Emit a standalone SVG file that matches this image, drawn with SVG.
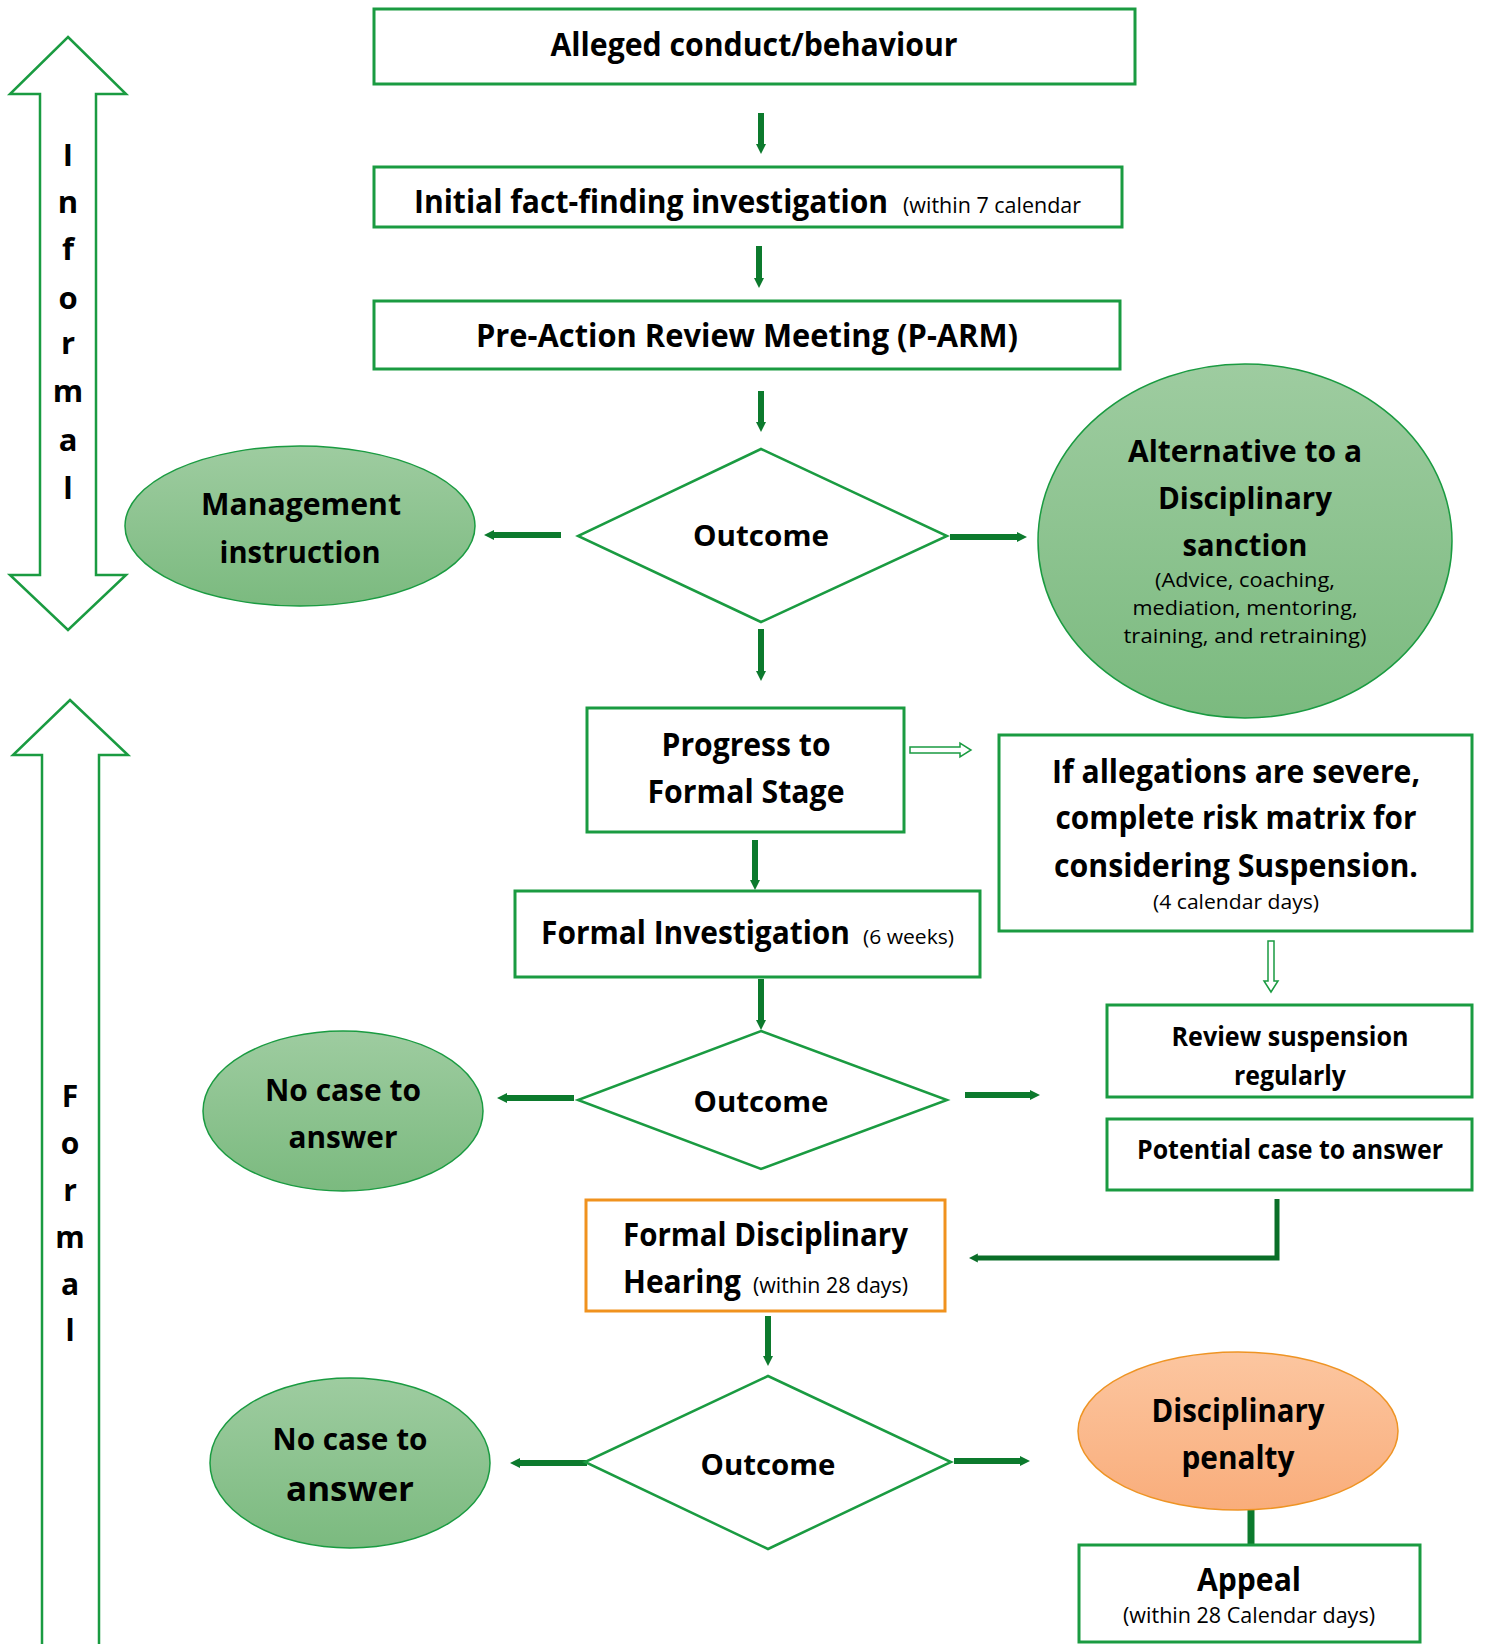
<svg xmlns="http://www.w3.org/2000/svg" width="1487" height="1644" viewBox="0 0 1487 1644">
<defs>
<linearGradient id="gGreen" x1="0" y1="0" x2="0" y2="1">
<stop offset="0" stop-color="#9ecca0"/><stop offset="1" stop-color="#7bba7f"/>
</linearGradient>
<linearGradient id="gOrange" x1="0" y1="0" x2="0" y2="1">
<stop offset="0" stop-color="#fcc6a0"/><stop offset="1" stop-color="#f9ad7b"/>
</linearGradient>
<marker id="ah" viewBox="0 0 10 10" refX="2" refY="5" markerWidth="10" markerHeight="14" markerUnits="userSpaceOnUse" orient="auto">
<path d="M0,0 L10,5 L0,10 Z" fill="#0c7a2d"/>
</marker>
<marker id="ah2" viewBox="0 0 10 10" refX="2" refY="5" markerWidth="9" markerHeight="12" markerUnits="userSpaceOnUse" orient="auto">
<path d="M0,0 L10,5 L0,10 Z" fill="#0a6e28"/>
</marker>
</defs>
<style>
.box{fill:#fff;stroke:#1a9b41;stroke-width:3}
.obox{fill:#fff;stroke:#f0921e;stroke-width:3}
.dia{fill:#fff;stroke:#1a9b41;stroke-width:2.5}
.ell{fill:url(#gGreen);stroke:#1a9b41;stroke-width:1.5}
.oell{fill:url(#gOrange);stroke:#ee9424;stroke-width:1.5}
.big{fill:none;stroke:#1a9b41;stroke-width:2.5}
.hol{fill:#fff;stroke:#1a9b41;stroke-width:1.5}
.arr{stroke:#0c7a2d;stroke-width:6;fill:none;marker-end:url(#ah)}
.t{font-family:"Open Sans","Noto Sans","Liberation Sans",sans-serif;font-weight:bold;fill:#000;text-anchor:middle}
.s{font-family:"Open Sans","Noto Sans","Liberation Sans",sans-serif;font-weight:normal;fill:#000;text-anchor:middle}
.tl{font-family:"Open Sans","Noto Sans","Liberation Sans",sans-serif;font-weight:bold;fill:#000}
.sl{font-family:"Open Sans","Noto Sans","Liberation Sans",sans-serif;font-weight:normal;fill:#000}
</style>

<g id="informal-arrow">
<polygon class="big" points="68,37 126,94 96,94 96,575 126,575 68,630 10,575 40,575 40,94 10,94"/>
<g class="t" font-size="31">
<text x="68" y="166">I</text><text x="68" y="213">n</text><text x="68" y="260">f</text><text x="68" y="309">o</text><text x="68" y="354">r</text><text x="68" y="402">m</text><text x="68" y="451">a</text><text x="68" y="499">l</text>
</g>
</g>

<g id="formal-arrow">
<polygon class="big" points="70,700 128,755 99,755 99,1646 42,1646 42,755 13,755"/>
<g class="t" font-size="30">
<text x="70" y="1107">F</text><text x="70" y="1154">o</text><text x="70" y="1201">r</text><text x="70" y="1248">m</text><text x="70" y="1295">a</text><text x="70" y="1341">l</text>
</g>
</g>

<g id="connectors">
<line class="arr" x1="761" y1="113" x2="761" y2="146"/>
<line class="arr" x1="759" y1="246" x2="759" y2="280"/>
<line class="arr" x1="761" y1="391" x2="761" y2="424"/>
<line class="arr" x1="561" y1="535" x2="492" y2="535"/>
<line class="arr" x1="950" y1="537" x2="1019" y2="537"/>
<line class="arr" x1="761" y1="629" x2="761" y2="673"/>
<line class="arr" x1="755" y1="840" x2="755" y2="882"/>
<line class="arr" x1="761" y1="979" x2="761" y2="1022"/>
<line class="arr" x1="574" y1="1098" x2="505" y2="1098"/>
<line class="arr" x1="965" y1="1095" x2="1032" y2="1095"/>
<line class="arr" x1="768" y1="1316" x2="768" y2="1358"/>
<line class="arr" x1="587" y1="1463" x2="518" y2="1463"/>
<line class="arr" x1="954" y1="1461" x2="1022" y2="1461"/>
<polyline points="1277,1199 1277,1258 976,1258" fill="none" stroke="#0a6e28" stroke-width="5" marker-end="url(#ah2)"/>
<line x1="1251" y1="1508" x2="1251" y2="1546" stroke="#0c7a2d" stroke-width="7"/>
<polygon class="hol" points="910,747 960,747 960,743 971,750 960,757 960,753 910,753"/>
<polygon class="hol" points="1268,941 1274,941 1274,981 1278,981 1271,992 1264,981 1268,981"/>
</g>

<g id="n-alleged">
<rect class="box" x="374" y="9" width="761" height="75"/>
<text class="t" x="754" y="56" font-size="33" textLength="407" lengthAdjust="spacingAndGlyphs">Alleged conduct/behaviour</text>
</g>

<g id="n-initial">
<rect class="box" x="374" y="167" width="748" height="60"/>
<text class="tl" transform="translate(414,213) scale(1,1.1)" x="0" y="0" font-size="30" textLength="474" lengthAdjust="spacingAndGlyphs">Initial fact-finding investigation</text>
<text class="sl" x="903" y="213" font-size="21" textLength="178" lengthAdjust="spacingAndGlyphs">(within 7 calendar</text>
</g>

<g id="n-parm">
<rect class="box" x="374" y="301" width="746" height="68"/>
<text class="t" x="747" y="347" font-size="33" textLength="542" lengthAdjust="spacingAndGlyphs">Pre-Action Review Meeting (P-ARM)</text>
</g>

<g id="n-outcome1">
<polygon class="dia" points="761,449 947,536 761,622 578,536"/>
<text class="t" x="761" y="546" font-size="29" textLength="136" lengthAdjust="spacingAndGlyphs">Outcome</text>
</g>

<g id="n-management">
<ellipse class="ell" cx="300" cy="526" rx="175" ry="80"/>
<text class="t" x="301" y="515" font-size="30" textLength="200" lengthAdjust="spacingAndGlyphs">Management</text>
<text class="t" x="300" y="563" font-size="30" textLength="161" lengthAdjust="spacingAndGlyphs">instruction</text>
</g>

<g id="n-alternative">
<ellipse class="ell" cx="1245" cy="541" rx="207" ry="177"/>
<text class="t" x="1245" y="462" font-size="30" textLength="234" lengthAdjust="spacingAndGlyphs">Alternative to a</text>
<text class="t" x="1245" y="509" font-size="30" textLength="174" lengthAdjust="spacingAndGlyphs">Disciplinary</text>
<text class="t" x="1245" y="556" font-size="30" textLength="125" lengthAdjust="spacingAndGlyphs">sanction</text>
<text class="s" x="1245" y="587" font-size="20" textLength="180" lengthAdjust="spacingAndGlyphs">(Advice, coaching,</text>
<text class="s" x="1245" y="615" font-size="20" textLength="225" lengthAdjust="spacingAndGlyphs">mediation, mentoring,</text>
<text class="s" x="1245" y="643" font-size="20" textLength="243" lengthAdjust="spacingAndGlyphs">training, and retraining)</text>
</g>

<g id="n-progress">
<rect class="box" x="587" y="708" width="317" height="124"/>
<text class="t" x="746" y="756" font-size="32" textLength="169" lengthAdjust="spacingAndGlyphs">Progress to</text>
<text class="t" x="746" y="803" font-size="32" textLength="197" lengthAdjust="spacingAndGlyphs">Formal Stage</text>
</g>

<g id="n-suspension">
<rect class="box" x="999" y="735" width="473" height="196"/>
<text class="t" x="1236" y="783" font-size="32" textLength="368" lengthAdjust="spacingAndGlyphs">If allegations are severe,</text>
<text class="t" x="1236" y="829" font-size="32" textLength="361" lengthAdjust="spacingAndGlyphs">complete risk matrix for</text>
<text class="t" x="1236" y="877" font-size="32" textLength="364" lengthAdjust="spacingAndGlyphs">considering Suspension.</text>
<text class="s" x="1236" y="909" font-size="20" textLength="166" lengthAdjust="spacingAndGlyphs">(4 calendar days)</text>
</g>

<g id="n-formal-investigation">
<rect class="box" x="515" y="891" width="465" height="86"/>
<text class="tl" transform="translate(541,944) scale(1,1.1)" x="0" y="0" font-size="30" textLength="309" lengthAdjust="spacingAndGlyphs">Formal Investigation</text>
<text class="sl" x="863" y="944" font-size="20" textLength="91" lengthAdjust="spacingAndGlyphs">(6 weeks)</text>
</g>

<g id="n-outcome2">
<polygon class="dia" points="761,1031 947,1100 761,1169 578,1100"/>
<text class="t" x="761" y="1112" font-size="29" textLength="135" lengthAdjust="spacingAndGlyphs">Outcome</text>
</g>

<g id="n-nocase1">
<ellipse class="ell" cx="343" cy="1111" rx="140" ry="80"/>
<text class="t" x="343" y="1101" font-size="30" textLength="156" lengthAdjust="spacingAndGlyphs">No case to</text>
<text class="t" x="343" y="1148" font-size="30" textLength="109" lengthAdjust="spacingAndGlyphs">answer</text>
</g>

<g id="n-review">
<rect class="box" x="1107" y="1005" width="365" height="92"/>
<text class="t" x="1290" y="1046" font-size="26" textLength="237" lengthAdjust="spacingAndGlyphs">Review suspension</text>
<text class="t" x="1290" y="1085" font-size="26" textLength="112" lengthAdjust="spacingAndGlyphs">regularly</text>
</g>

<g id="n-potential">
<rect class="box" x="1107" y="1119" width="365" height="71"/>
<text class="t" x="1290" y="1159" font-size="26" textLength="306" lengthAdjust="spacingAndGlyphs">Potential case to answer</text>
</g>

<g id="n-hearing">
<rect class="obox" x="586" y="1200" width="359" height="111"/>
<text class="tl" x="623" y="1246" font-size="33" textLength="285" lengthAdjust="spacingAndGlyphs">Formal Disciplinary</text>
<text class="tl" transform="translate(623,1293) scale(1,1.1)" x="0" y="0" font-size="30" textLength="118" lengthAdjust="spacingAndGlyphs">Hearing</text>
<text class="sl" x="753" y="1293" font-size="21" textLength="155" lengthAdjust="spacingAndGlyphs">(within 28 days)</text>
</g>

<g id="n-outcome3">
<polygon class="dia" points="768,1376 951,1462 768,1549 585,1462"/>
<text class="t" x="768" y="1475" font-size="29" textLength="135" lengthAdjust="spacingAndGlyphs">Outcome</text>
</g>

<g id="n-nocase2">
<ellipse class="ell" cx="350" cy="1463" rx="140" ry="85"/>
<text class="t" x="350" y="1450" font-size="30" textLength="155" lengthAdjust="spacingAndGlyphs">No case to</text>
<text class="t" x="350" y="1501" font-size="34" textLength="128" lengthAdjust="spacingAndGlyphs">answer</text>
</g>

<g id="n-penalty">
<ellipse class="oell" cx="1238" cy="1431" rx="160" ry="79"/>
<text class="t" x="1238" y="1422" font-size="32" textLength="173" lengthAdjust="spacingAndGlyphs">Disciplinary</text>
<text class="t" x="1238" y="1469" font-size="32" textLength="113" lengthAdjust="spacingAndGlyphs">penalty</text>
</g>

<g id="n-appeal">
<rect class="box" x="1079" y="1545" width="341" height="97"/>
<text class="t" x="1249" y="1591" font-size="33" textLength="104" lengthAdjust="spacingAndGlyphs">Appeal</text>
<text class="s" x="1249" y="1623" font-size="21" textLength="252" lengthAdjust="spacingAndGlyphs">(within 28 Calendar days)</text>
</g>
</svg>
